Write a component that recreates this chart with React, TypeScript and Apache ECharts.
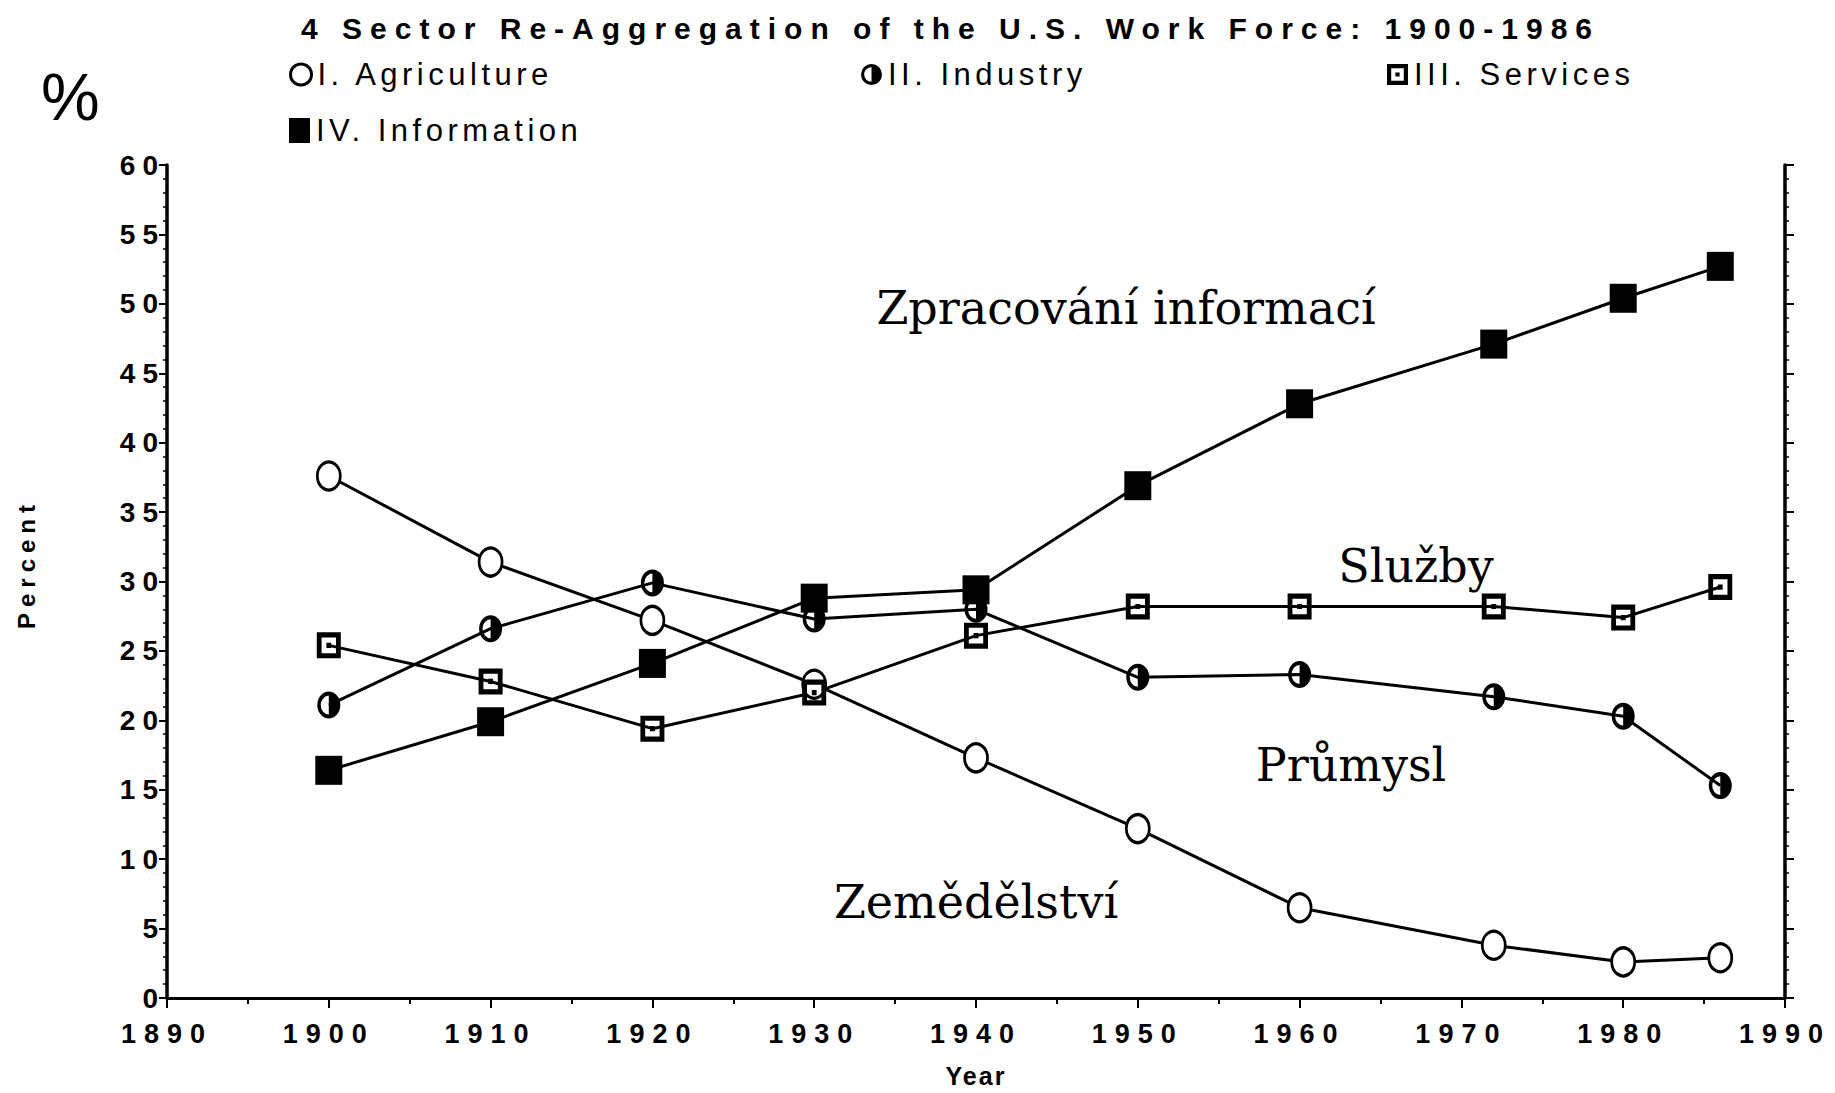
import React, { useEffect, useRef } from "react";
import * as echarts from "echarts";

const TITLE = "4 Sector Re-Aggregation of the U.S. Work Force: 1900-1986";
const YEARS = [1900, 1910, 1920, 1930, 1940, 1950, 1960, 1972, 1980, 1986];
const AGRICULTURE = [37.6, 31.4, 27.2, 22.6, 17.3, 12.2, 6.5, 3.8, 2.6, 2.9];
const INDUSTRY = [21.1, 26.6, 29.9, 27.3, 28.0, 23.1, 23.3, 21.7, 20.3, 15.3];
const SERVICES = [25.4, 22.8, 19.4, 22.0, 26.1, 28.2, 28.2, 28.2, 27.4, 29.6];
const INFORMATION = [16.4, 19.9, 24.1, 28.8, 29.4, 36.9, 42.8, 47.1, 50.4, 52.7];
const SERIES_NAMES = ["I. Agriculture", "II. Industry", "III. Services", "IV. Information"];
const ANNOTATIONS = ["Zpracování informací", "Služby", "Průmysl", "Zemědělství"];

const HALF_CIRCLE =
  "path://M0,-10A10,10 0 1,1 0,10A10,10 0 1,1 0,-10Z M0,-7A7,7 0 1,0 0,7A7,7 0 1,0 0,-7Z M0,-7A7,7 0 0,1 0,7Z";
const SQUARE_RING =
  "path://M-10,-10L10,-10L10,10L-10,10Z M-6,-6L-6,6L6,6L6,-6Z M-2,-2L2,-2L2,2L-2,2Z";

const pairs = (vals: number[]) => YEARS.map((y, i) => [y, vals[i]]);

export default function App() {
  const ref = useRef<HTMLDivElement>(null);
  useEffect(() => {
    const el = ref.current!;
    const chart = echarts.init(el, null, { renderer: "svg" });
    const black = "#000";
    const sans = "Liberation Sans";
    const axisLabel = {
      color: black,
      fontFamily: sans,
      fontWeight: "bold",
      fontSize: 27,
      formatter: (v: number) => String(v),
    };
    const baseLine = {
      type: "line",
      lineStyle: { color: black, width: 3 },
      emphasis: { disabled: true },
      z: 3,
    };
    const legendBase = {
      orient: "horizontal",
      itemWidth: 21,
      itemHeight: 25,
      itemGap: 0,
      selectedMode: false,
      textStyle: { color: black, fontFamily: sans, fontSize: 31, padding: [0, 0, 0, 1] },
    };
    const annot = (text: string, x: number, y: number) => ({
      type: "text",
      x,
      y,
      style: {
        text,
        fill: black,
        font: "46px 'DejaVu Serif'",
        textAlign: "center",
        textVerticalAlign: "middle",
      },
    });
    chart.setOption({
      animation: false,
      backgroundColor: "#fff",
      title: {
        text: TITLE,
        left: 296,
        top: 8,
        textStyle: { color: black, fontFamily: sans, fontWeight: "bold", fontSize: 30 },
      },
      legend: [
        {
          ...legendBase,
          left: 284,
          top: 54,
          data: [{ name: SERIES_NAMES[0], icon: "circle", itemStyle: { color: "#fff", borderColor: black, borderWidth: 3 } }],
        },
        {
          ...legendBase,
          left: 856,
          top: 54,
          data: [{ name: SERIES_NAMES[1], icon: HALF_CIRCLE, itemStyle: { color: black, borderWidth: 0 } }],
        },
        {
          ...legendBase,
          left: 1382,
          top: 54,
          data: [{ name: SERIES_NAMES[2], icon: SQUARE_RING, itemStyle: { color: black, borderWidth: 0 } }],
        },
        {
          ...legendBase,
          left: 284,
          top: 110,
          data: [{ name: SERIES_NAMES[3], icon: "rect", itemStyle: { color: black, borderWidth: 0 } }],
        },
      ],
      grid: { left: 167, right: 50, top: 165, bottom: 88, containLabel: false },
      xAxis: [
        {
          type: "value",
          min: 1890,
          max: 1990,
          interval: 10,
          position: "bottom",
          name: "Year",
          nameLocation: "middle",
          nameGap: 65,
          nameTextStyle: { color: black, fontFamily: sans, fontWeight: "bold", fontSize: 25 },
          axisLine: { show: true, lineStyle: { color: black, width: 3 } },
          axisTick: { show: true, inside: false, length: 10, lineStyle: { color: black, width: 2 } },
          minorTick: { show: true, splitNumber: 2, length: 6, lineStyle: { color: black, width: 2 } },
          axisLabel: { ...axisLabel, margin: 22 },
          splitLine: { show: false },
        },
        {
          type: "value",
          min: 1890,
          max: 1990,
          interval: 10,
          position: "top",
          axisLine: { show: true, lineStyle: { color: black, width: 2.5 } },
          axisTick: { show: true, inside: true, length: 6, lineStyle: { color: black, width: 2 } },
          axisLabel: { show: false },
          splitLine: { show: false },
        },
      ],
      yAxis: [
        {
          type: "value",
          min: 0,
          max: 60,
          interval: 5,
          position: "left",
          axisLine: { show: true, lineStyle: { color: black, width: 3.5 } },
          axisTick: { show: true, inside: false, length: 8, lineStyle: { color: black, width: 2 } },
          minorTick: { show: true, splitNumber: 5, length: 4, lineStyle: { color: black, width: 1.5 } },
          axisLabel: { ...axisLabel, fontSize: 28, margin: 2 },
          splitLine: { show: false },
        },
        {
          type: "value",
          min: 0,
          max: 60,
          interval: 5,
          position: "right",
          axisLine: { show: true, lineStyle: { color: black, width: 3.5 } },
          axisTick: { show: true, inside: false, length: 9, lineStyle: { color: black, width: 2 } },
          minorTick: { show: true, splitNumber: 5, length: 4, lineStyle: { color: black, width: 1.5 } },
          axisLabel: { show: false },
          splitLine: { show: false },
        },
      ],
      graphic: [
        {
          type: "text",
          left: 41,
          top: 64,
          style: { text: "%", fill: black, font: "66px 'Liberation Sans'" },
        },
        {
          type: "text",
          x: 26,
          y: 564,
          rotation: Math.PI / 2,
          style: {
            text: "Percent",
            fill: black,
            font: "bold 24px 'Liberation Sans'",
            textAlign: "center",
            textVerticalAlign: "middle",
          },
        },
        annot(ANNOTATIONS[0], 1126, 308),
        annot(ANNOTATIONS[1], 1416, 566),
        annot(ANNOTATIONS[2], 1351, 765),
        annot(ANNOTATIONS[3], 976, 902),
      ],
      series: [
        {
          ...baseLine,
          name: SERIES_NAMES[0],
          data: pairs(AGRICULTURE),
          symbol: "circle",
          symbolSize: [23, 28],
          itemStyle: { color: "#fff", borderColor: black, borderWidth: 3 },
        },
        {
          ...baseLine,
          name: SERIES_NAMES[1],
          data: pairs(INDUSTRY),
          symbol: HALF_CIRCLE,
          symbolSize: [23, 27],
          itemStyle: { color: black, borderWidth: 0 },
        },
        {
          ...baseLine,
          name: SERIES_NAMES[2],
          data: pairs(SERVICES),
          symbol: SQUARE_RING,
          symbolSize: [24, 26],
          itemStyle: { color: black, borderWidth: 0 },
        },
        {
          ...baseLine,
          name: SERIES_NAMES[3],
          data: pairs(INFORMATION),
          symbol: "rect",
          symbolSize: [27, 29],
          itemStyle: { color: black, borderWidth: 0 },
        },
      ],
    });

    // Emulate the wide letter spacing of the original printout.
    el.querySelectorAll("text").forEach((t) => {
      const s = t.textContent || "";
      let ls = 0;
      if (s === TITLE) ls = 8;
      else if (/^\d{4}$/.test(s)) ls = 8;
      else if (/^\d{1,2}$/.test(s)) ls = 7;
      else if (SERIES_NAMES.includes(s)) ls = 4.5;
      else if (s === "Percent") ls = 6;
      else if (s === "Year") ls = 2;
      if (ls) (t as SVGTextElement).style.letterSpacing = ls + "px";
    });

    return () => chart.dispose();
  }, []);
  return (
    <div
      ref={ref}
      style={{ position: "fixed", left: 0, top: 0, width: 1835, height: 1093, background: "#fff" }}
    />
  );
}
